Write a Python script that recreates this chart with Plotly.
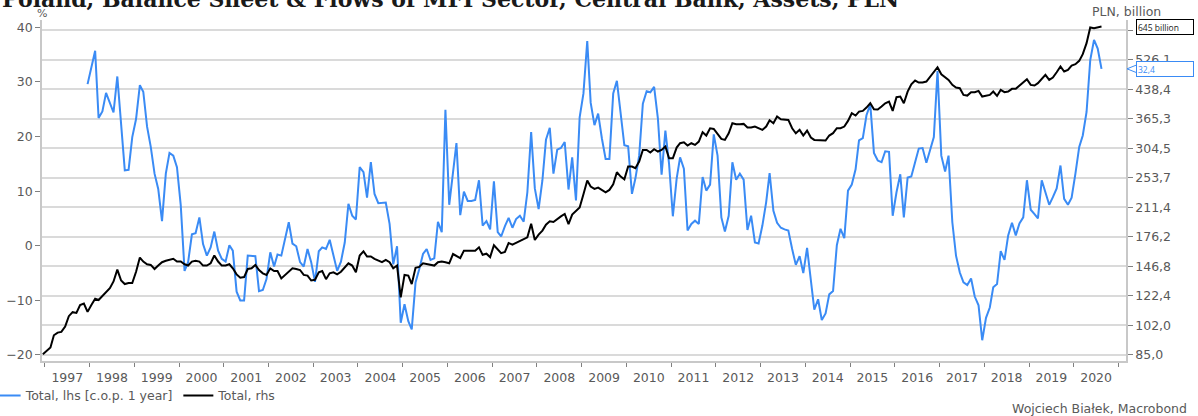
import math
import pandas as pd
import plotly.graph_objects as go

# ---- data ----
# Blue: Total, lhs [c.o.p. 1 year], %, monthly from 1997-12
blue_start = "1997-12-01"
blue_vals = [
    29.6, 32.6, 35.7, 23.4, 24.6, 28.0, 26.2, 24.4, 31.0, 22.0, 13.8, 13.9,
    19.9, 23.2, 29.4, 28.2, 21.8, 18.1, 13.2, 10.4, 4.5, 13.2, 17.0, 16.5,
    14.4, 7.4, -4.6, -3.0, 2.1, 2.3, 5.2, 0.3, -1.8, -0.3, 2.6, -0.9,
    -2.4, -2.9, 0.1, -0.9, -8.4, -10.0, -10.0, -1.8, -1.9, -1.9, -8.3, -8.1,
    -6.1, -1.2, -3.8, -1.6, -1.8, 1.4, 4.3, 0.4, -0.1, -3.0, -3.8, -0.6,
    -3.0, -6.6, -1.0, -0.3, -0.6, 1.1, -1.9, -4.6, -2.9, 0.6, 7.7, 5.5,
    4.8, 14.4, 13.5, 8.8, 15.3, 9.5, 7.8, 7.8, 7.9, 4.0, -3.4, -0.1,
    -14.1, -10.7, -13.8, -15.3, -6.7, -4.3, -1.5, -0.6, -2.6, -2.3, 4.4, 2.5,
    24.9, 7.5, 13.5, 18.8, 5.6, 9.9, 8.2, 8.2, 8.4, 12.0, 3.7, 4.5,
    3.0, 11.8, 2.5, 1.7, 3.6, 5.1, 3.3, 4.9, 5.5, 4.4, 9.8, 20.8,
    10.5, 6.7, 12.0, 19.4, 21.6, 13.2, 17.6, 17.9, 19.0, 10.3, 16.2, 8.3,
    23.5, 27.9, 37.5, 26.2, 22.1, 24.2, 19.6, 15.9, 15.9, 27.9, 30.2, 23.9,
    18.4, 18.2, 9.5, 12.3, 16.5, 26.0, 28.3, 28.1, 29.1, 23.3, 13.0, 21.1,
    15.0, 5.4, 12.3, 16.2, 14.1, 2.8, 4.0, 4.6, 4.0, 12.6, 10.1, 11.2,
    20.4, 16.5, 5.2, 2.6, 5.5, 15.3, 12.1, 13.2, 12.1, 2.9, 5.5, 0.6,
    0.4, 3.7, 8.0, 13.3, 6.4, 4.2, 3.3, 3.0, 2.8, -0.6, -3.5, -1.9,
    -5.0, -0.4, -6.1, -11.7, -9.8, -13.6, -12.4, -8.9, -8.3, 0.1, 3.1, 1.4,
    10.1, 11.2, 14.0, 19.3, 19.7, 23.9, 25.9, 17.0, 15.6, 15.3, 17.3, 17.2,
    5.5, 9.8, 13.1, 5.2, 12.5, 12.7, 15.3, 17.8, 17.9, 15.2, 17.5, 19.9,
    32.0, 16.5, 13.6, 16.5, 4.3, -1.8, -4.9, -6.7, -7.2, -6.0, -9.3, -10.9,
    -17.3, -13.2, -11.3, -7.6, -7.0, -1.0, -2.6, 1.9, 4.2, 1.9, 4.1, 5.2,
    12.0, 6.6, 5.8, 5.0, 12.0, 9.8, 7.5, 8.9, 10.5, 14.7, 8.6, 7.5,
    8.8, 13.2, 18.1, 20.2, 24.5, 34.0, 37.7, 36.1, 32.4,
]

# Black: Total, rhs, PLN billion, monthly from 1996-12
black_start = "1996-12-01"
black_vals = [
    85.4, 87.1, 89.0, 96.0, 97.6, 98.0, 101.3, 108.0, 110.7, 110.2, 115.7, 116.7,
    110.9, 115.7, 120.3, 119.3, 122.4, 125.8, 128.4, 133.8, 143.9, 134.6, 131.7, 132.5,
    132.5, 142.1, 155.1, 151.3, 148.8, 148.2, 144.5, 147.6, 150.7, 152.0, 152.9, 153.9,
    151.3, 151.3, 148.8, 147.6, 151.3, 152.0, 151.3, 147.6, 147.6, 149.7, 157.0, 151.3,
    147.6, 147.6, 148.8, 145.1, 139.8, 136.9, 137.5, 144.5, 145.1, 148.2, 143.6, 140.7,
    139.3, 145.1, 142.7, 142.7, 136.3, 139.3, 142.7, 145.1, 144.5, 143.6, 139.3, 138.7,
    134.6, 135.2, 141.6, 142.7, 135.7, 140.7, 141.6, 139.8, 142.1, 145.6, 149.7, 147.6,
    141.6, 157.0, 161.1, 156.1, 156.1, 153.9, 152.0, 150.7, 152.9, 150.7, 145.1, 147.6,
    121.3, 139.3, 138.7, 131.7, 145.6, 146.4, 149.7, 149.1, 148.8, 147.6, 150.7, 151.3,
    150.7, 149.7, 158.5, 157.0, 154.6, 161.8, 161.8, 161.8, 161.8, 165.2, 157.7, 158.8,
    155.5, 167.3, 162.8, 159.4, 160.5, 169.7, 168.0, 169.7, 171.4, 173.2, 175.7, 191.0,
    172.8, 178.6, 183.1, 190.0, 193.9, 193.1, 197.1, 200.0, 202.9, 190.7, 202.1, 206.3,
    211.1, 229.2, 249.4, 240.3, 236.9, 238.8, 235.4, 232.0, 235.4, 243.8, 262.5, 255.6,
    251.4, 271.9, 271.9, 269.1, 280.4, 301.3, 301.3, 296.4, 302.6, 298.3, 301.3, 307.6,
    286.2, 286.2, 305.7, 314.0, 315.9, 309.5, 314.0, 310.8, 317.2, 336.1, 329.3, 344.4,
    343.0, 332.0, 322.5, 320.5, 334.0, 355.2, 353.0, 353.0, 353.8, 345.9, 345.9, 348.0,
    344.4, 341.0, 348.0, 361.9, 355.2, 370.2, 364.2, 362.6, 362.6, 344.4, 334.0, 341.0,
    329.3, 339.5, 325.2, 320.5, 319.9, 320.5, 319.2, 329.3, 334.0, 344.4, 344.4, 348.0,
    360.4, 377.9, 372.5, 381.8, 383.4, 391.3, 401.9, 387.3, 386.5, 393.8, 401.9, 406.1,
    383.4, 417.1, 418.8, 401.9, 431.9, 451.9, 462.3, 456.6, 456.6, 459.5, 473.8, 488.8,
    502.0, 480.7, 471.0, 464.3, 450.1, 442.8, 440.9, 423.1, 421.4, 430.2, 430.2, 433.8,
    418.8, 421.4, 423.1, 431.9, 420.5, 436.4, 430.2, 431.9, 439.2, 439.2, 448.3, 456.6,
    466.1, 450.1, 448.3, 454.8, 467.1, 478.8, 464.3, 471.0, 486.7, 504.1, 488.8, 493.8,
    507.2, 511.4, 522.0, 544.0, 582.2, 641.3, 638.7, 641.3, 645.2,
]

left_ticks = [-20, -10, 0, 10, 20, 30, 40]
right_ticks = [85.0, 102.0, 122.4, 146.8, 176.2, 211.4, 253.7, 304.5, 365.3, 438.4, 526.1, 631.3]
right_labels = ["85,0", "102,0", "122,4", "146,8", "176,2", "211,4", "253,7",
                "304,5", "365,3", "438,4", "526,1", ""]

title_text = "Poland, Balance Sheet & Flows of MFI Sector, Central Bank, Assets, PLN"
blue_name = "Total, lhs [c.o.p. 1 year]"
black_name = "Total, rhs"
source_text = "Wojciech Białek, Macrobond"

# ---- build ----
blue_dates = pd.date_range(blue_start, periods=len(blue_vals), freq="MS") + pd.Timedelta(days=14)
black_dates = pd.date_range(black_start, periods=len(black_vals), freq="MS") + pd.Timedelta(days=14)

BLUE = "#3a8bf5"
GRAY = "#595959"
GRID = "#dadada"
AXL = "#c8c8c8"
FONT = "DejaVu Sans"
FS = 12.5

fig = go.Figure()
fig.add_trace(go.Scatter(x=blue_dates, y=blue_vals, name=blue_name, mode="lines",
                         line=dict(color=BLUE, width=2), yaxis="y"))
fig.add_trace(go.Scatter(x=black_dates, y=black_vals, name=black_name, mode="lines",
                         line=dict(color="#000000", width=2), yaxis="y2"))

fig.update_layout(
    width=1198, height=416,
    margin=dict(l=42, r=72, t=20, b=55, autoexpand=False),
    paper_bgcolor="white", plot_bgcolor="white",
    font=dict(family=FONT, size=FS, color=GRAY),
    showlegend=True,
    legend=dict(orientation="h", x=-0.052, y=-0.058, xanchor="left", yanchor="top",
                font=dict(size=FS, color=GRAY), itemwidth=30, tracegroupgap=0,
                bgcolor="rgba(0,0,0,0)"),
    xaxis=dict(
        type="date", range=["1996-12-08", "2021-03-03"],
        tick0="1997-01-01", dtick="M12", tickformat="%Y", ticklabelmode="period",
        ticks="outside", ticklen=4, tickcolor="#808080", showgrid=False,
        showline=True, linecolor=AXL, linewidth=1.5, zeroline=False,
        tickfont=dict(size=FS, color=GRAY),
    ),
    yaxis=dict(
        range=[-21.1, 41.34], tickvals=left_ticks, showgrid=False, zeroline=False,
        ticks="outside", ticklen=5, tickcolor="#808080",
        showline=True, linecolor=AXL, linewidth=1.5,
        tickfont=dict(size=FS, color=GRAY),
    ),
    yaxis2=dict(
        type="log", overlaying="y", side="right",
        range=[1.9133, 2.8272], tickvals=right_ticks, ticktext=right_labels,
        showgrid=True, gridcolor=GRID, gridwidth=1.5, zeroline=False,
        ticks="outside", ticklen=5, tickcolor="#808080",
        showline=True, linecolor=AXL, linewidth=1.5,
        tickfont=dict(size=FS, color=GRAY),
    ),
)

# title (cut off at the top like the reference)
fig.add_annotation(text=title_text, xref="paper", yref="paper", x=-0.0387, y=1.061,
                   xanchor="left", yanchor="middle", showarrow=False,
                   font=dict(family="DejaVu Serif", size=22, color="#1a1a1a", weight="bold"))
fig.add_annotation(text="%", xref="paper", yref="paper", x=0.0, y=1.0195,
                   xanchor="center", yanchor="middle", showarrow=False,
                   font=dict(size=11, color=GRAY))
fig.add_annotation(text="PLN, billion", xref="paper", yref="paper", x=1.0, y=1.0235,
                   xanchor="center", yanchor="middle", showarrow=False,
                   font=dict(size=FS, color=GRAY))
fig.add_annotation(text=source_text, xref="paper", yref="paper", x=1.058, y=-0.138,
                   xanchor="right", yanchor="middle", showarrow=False,
                   font=dict(size=FS, color=GRAY))

# last-value tags
last_black = black_vals[-1]
last_blue = blue_vals[-1]
tags = [
    (f"{last_black:.0f} billion", "y2", math.log10(last_black), "#000000", "#1a1a1a"),
    (f"{last_blue:.1f}".replace(".", ","), "y", last_blue, BLUE, BLUE),
]
for txt, yref, yv, bc, tc in tags:
    fig.add_annotation(text=txt, xref="paper", yref=yref, x=1.0, y=yv, xanchor="left",
                       yanchor="middle", xshift=10, showarrow=False, align="left",
                       width=54, height=12, borderpad=1, bordercolor=bc, borderwidth=1,
                       bgcolor="white", font=dict(family="Open Sans", size=8.5, color=tc))
    fig.add_shape(type="path", xref="paper", yref=yref, xsizemode="pixel", ysizemode="pixel",
                  xanchor=1.0, yanchor=yv, path="M 11,4 L 1,0 L 11,-4",
                  line=dict(color=bc, width=1))

fig.write_html("out.html", config={"displayModeBar": False},
               post_script="document.body.style.margin='0';")
